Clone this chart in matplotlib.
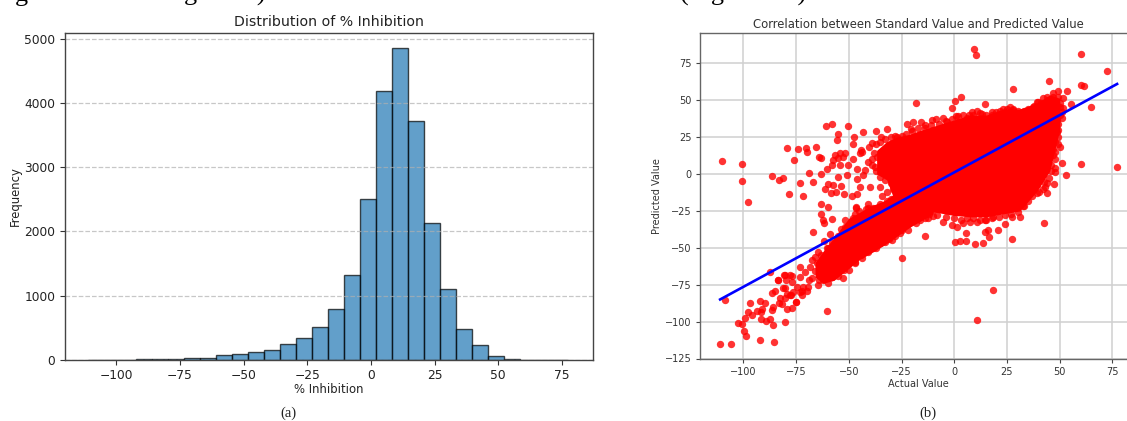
import matplotlib
matplotlib.use("Agg")
import matplotlib.pyplot as plt

W, H = 1127, 421

# ---------- panel (a): histogram ----------
hist_edges = [-111.0, -104.72, -98.43, -92.15, -85.87, -79.58, -73.3, -67.02, -60.73, -54.45,
              -48.17, -41.88, -35.6, -29.32, -23.03, -16.75, -10.47, -4.18, 2.1, 8.38,
              14.67, 20.95, 27.23, 33.52, 39.8, 46.08, 52.37, 58.65, 64.93, 71.22, 77.5]
hist_counts = [3, 5, 4, 12, 10, 22, 35, 28, 75, 90, 120, 160, 250, 345, 510, 790,
               1320, 2500, 4180, 4850, 3725, 2130, 1110, 480, 240, 70, 8, 5, 2, 2]
hist_xticks = [-100, -75, -50, -25, 0, 25, 50, 75]
hist_yticks = [0, 1000, 2000, 3000, 4000, 5000]

# ---------- panel (b): scatter ----------
out_x = [9.5, 10.4, 60.2, 72.4, 44.7, 60.2, 61.5, 27.8, 53.4, 65, 55.4, -18.3, 0.3, 3.2, -1.1, 0.8, 77.1, 60, 51, 53,
         -110, -100.8, -100.6, -97.8, -86.4, -83.2, -81, -78.2, -79.3, -74.2, -70.4, -70, -76, -69, -73, -71.9, -67,
         -65.4, -64.3, -63.3, -60.5, -63, -60.8, -58, -50.2, -55.1, -55.8, -47.6, -48.2, -43.3, -37, -31.9, -34.8,
         -24.8, 18.3, 10.9, -60.2, -13.7, 42.5, 27.6, -67, -61.6, -59, -58.1, -63.2, -60, -63.2, -62, -61.6, -53.7,
         -51.8, -46.4]
out_y = [85, 80.5, 81, 70, 63, 60.5, 59.4, 57.6, 56.3, 45.6, 47.5, 48, 49.3, 52.2, 44.5, 39.5, 4.5, 6.8, 7.5, -0.5,
         8.6, 7, -4.5, -19.2, -1.4, -3.8, -3, -13.3, 17.6, 17, 17.6, 14.7, 9.3, 0.9, -5.9, -15, -5.6,
         18.5, 11.5, 10.8, 3.4, 0, 32.8, 33.9, 32.3, 27.3, 23.3, 25.3, 20.6, 28.2, 29, 30.7, 25,
         -56.7, -78.9, -99, -93.1, -42, -33, -44.3, -39.5, -45.4, -40.4, -30.3, -20.3, -22.4, -27.3, -31.2, -33, -37,
         -31.2, -22.6]

low_x = [-110.9, -105.7, -91.9, -85.6, -98.6, -99.8, -102.7, -100.5, -99.2, -97.9, -96, -96.7, -92.1, -89.7, -93.4,
         -91.1, -91.6, -86.5, -86.1, -91.6, -89.4, -87.3, -85.9, -80.2, -86.5, -84.8, -83.1, -81.7, -82.6, -79.1,
         -76.8, -75, -80.1, -79.1, -77.5, -72.3, -69.7, -83.7, -80.2, -77.1, -79.8, -87.3, -108.8,
         -52.6, -56.6, -59.7, -64.5, -69.2, -72.4, -75.2, -52.3, -43.9, -47, -38.4, -32.9, -29.7, -22.6, -66, -67.6,
         -64.5, -60.5, -59, -73.1, -77.9, -80.7, -77, -81, -83.4, -73, -70.8, -68.4, -65.2, -74.7, -71.6, -77.9,
         -80.2, -76.4, -73.1, -67.6, -63.7, -61.3]
low_y = [-115.5, -115, -112.8, -113.7, -109.8, -106.4, -100.8, -101.5, -97.4, -93.6, -95.2, -87.3, -85.9, -87.7, -92.9,
         -91.3, -93.8, -92.2, -90.4, -98.5, -99.7, -98.1, -102.6, -100.1, -80.9, -79.5, -87.7, -88.4, -84.3, -91.7,
         -90.6, -86.6, -77.5, -81.4, -82, -79.3, -79.1, -72, -68.5, -68.9, -71.9, -66.2, -85.2,
         -70.7, -66.2, -74, -75, -76.4, -82, -86.6, -65, -57, -59.4, -50.4, -45.9, -44.7, -31.2, -56, -58.3,
         -52.7, -50.4, -60.6, -62.8, -68.5, -68.5, -73, -77.5, -71.9, -69.6, -66.2, -62.8, -60.6, -76.4, -76.4, -82,
         -84.3, -79.8, -79.8, -70.7, -67.3, -62.8]

mid_x = [-27, -39.1, -40.2, -44.2, -44.7, -56.5, -54.1, -51.8, -57.3, -54.9, -52.6, -47.8, -43.9, -58.1, -54.1, -50.2,
         -46.2, -40.7, -42.3, -36.7, -37.5, -54.9, -51, -46.2, -43.1, -33.6, -59.7, -57.3, -53.8, -44.7, -39.9, -35.2,
         -61.2, -58.4, -56, -52.1, -48.3, -45.9, -34.4, -40.7, -46.6, -38.3, -40.7]
mid_y = [25.3, 20.7, 18.5, 16.2, 14, 12.8, 14, 14.4, 9.4, 10.6, 11.7, 9.9, 15.1, 6, 6, 6,
         3.3, 8.3, 2.7, 11.7, 4.9, -1.9, -0.7, -3.7, -0.7, 2.7, -7, -7.5, -8, -8.9, -8.6, -8.6,
         -10.4, -13.2, -12, -13.8, -14.7, -13.8, -15, -20, -22.9, -23.3, -23.3]

edge_x = [-22.5, -19.4, -15.8, -20.6, -13.8, -10.7, -8.6, -5.2, -3.6, -9.9, 5.9, 8.3, 10.6, 13, 14.6, 21.7, 26.4, 17.8,
          28, 32, 35.9, 39.4, 39.4, 42, 44.6, 46.9, 49, 51.7, 39.8, 37.4, 50, 51.7, 48.5, 50.9, 48.8, 49.3, 46.9, 50,
          46.9, 44.6, 47.7, 47.7, 47.4, 42.5, 39.3, 43.8, 43, 39, 33.6, 32.4, 32.7, 31.1, 27.2, 23.9, 20.9, 16.1, 14.5,
          16.4, 13.7, 9.6, 5.8, 2.7, 0.3, 5.8, 1.1, 4.3, -1.3, -5.5, 7.4, 10.6, 14.5, 18.5, -12.3, -16.3, -10.3, -21.8,
          -25.8]
edge_y = [33.6, 35.4, 35.4, 30.2, 30.9, 36.6, 37, 37.7, 35, 29.8, 37.7, 42.2, 42.9, 40.6, 47.4, 42.9, 45.6, 40,
          43.3, 42.2, 42.9, 43.3, 49, 51.7, 50, 54.7, 56.5, 51.3, 49, 45.6, 45.6, 44.5, 36.6, 37.7, 28.7, 25.3, 23, 18.5,
          12.9, 8.4, 3.8, 1.6, -7, -5.2, -7.5, -13, -8.6, -12.7, -14.2, -18.8, -21.7, -29, -29, -33.9, -38, -38, -39,
          -42.5, -47, -47.2, -45.4, -45.7, -45.9, -40.2, -35.7, -33.4, -34.6, -32.8, -32.3, -32.3, -31, -29, -30, -31,
          -28.5, -38, -40.2]

rim_x = [-37, -35, -33, -30, -28, -25, -23, -38, -39, -39, -37, -35, -33, -30, -32, -29, -30, -28, -32, -26, -30, -34, -37,
         -47, -48, -45, -42, -38, -35, -32, -52, -55, -58, -60, -63,
         -58, -55, -50, -47, -44, -41, -37, -35, -31, -28, -25, -22, -18, -14, -66, -69, -64, -62,
         -12, -8, -4, 0, 3, 6, 9, 12, 15, 18, 21, 24, 27, 30, 33, 35, 37, 40, 42, 44, 45, 46, 46, 48, 48, 49,
         -20, -17, -14, -11, -7, -4, -1, 2, 4, 7, 9, 12, 15, 18, 20, 23, 25, 28, 30, 33, 35, 38, 41, 44, 47, 49, 50, 51,
         50, 49, 49, 47, 48, 47]
rim_y = [20, 22, 24, 25, 26, 26, 27, 14, 10, 6, 2, -2, -4, -6, -12, -10, -17, -20, -20, -23, -25, -24, -27,
         -27, -30, -25, -24, -24, -20, -18, -36, -42, -47, -50, -55,
         -70, -69, -65, -60, -55, -53, -50, -47, -44, -42, -38, -34, -33, -30, -66, -72, -72, -72,
         -27, -28, -29, -30, -31, -30, -30, -31, -31, -30, -29, -28, -27, -26, -22, -18, -15, -12, -10, -6, -3, 2, 6, 10, 15, 20,
         29, 31, 33, 33, 34, 36, 37, 39, 40, 40, 40, 41, 40, 42, 42, 44, 44, 44, 43, 43, 44, 46, 48, 52, 52, 52, 48, 42,
         40, 34, 30, 28, 22, 17]

# saturated red mass: upper and lower limit per x
upper_band_x = [-36.8, -32, -27.3, -21, -16.3, -8.4, -0.5, 7.4, 15.3, 23.2, 31.1, 39, 45.3, 50]
upper_band_hi = [16, 22, 25, 27, 29.5, 33, 36.5, 40, 40, 44, 44, 48, 53.6, 51.3]
upper_band_lo = [0, -4, -22, -27, -26, -26, -28, -29, -29, -27, -25, -12, 2, 30]
lower_band_x = [-66, -62, -57, -50, -45, -40, -33, -27, -21, -10]
lower_band_hi = [-60, -52, -43, -30, -26, -22, -18, -12, -10, -10]
lower_band_lo = [-70, -74, -72, -64, -58, -54, -48, -42, -36, -27]

fit_x = [-111, 77.2]
fit_y = [-85, 61]
scat_xticks = [-100, -75, -50, -25, 0, 25, 50, 75]
scat_yticks = [-125, -100, -75, -50, -25, 0, 25, 50, 75]


def box(left, top, right, bottom):
    return [left / W, 1 - bottom / H, (right - left) / W, (bottom - top) / H]


fig = plt.figure(figsize=(W / 100, H / 100), dpi=100, facecolor="white")

# panel (a)
ax1 = fig.add_axes(box(64.5, 32.7, 592.5, 360))
ax1.bar(hist_edges[:-1], hist_counts,
        width=[b - a for a, b in zip(hist_edges[:-1], hist_edges[1:])],
        align="edge", color="#1f77b4", alpha=0.7, edgecolor="black", linewidth=1.0, zorder=1)
ax1.grid(axis="y", linestyle="--", color="#b0b0b0", alpha=0.7, linewidth=0.9, zorder=1.5)
ax1.set_xlim(-120.4, 87)
ax1.set_ylim(0, 5092)
ax1.set_xticks(hist_xticks)
ax1.set_yticks(hist_yticks)
ax1.tick_params(labelsize=8.8, color="#333333", labelcolor="#222222", width=0.8, length=3.5, pad=3)
ax1.set_xlabel("% Inhibition", fontsize=8.4, color="#222222", labelpad=1)
ax1.set_ylabel("Frequency", fontsize=8.4, color="#222222", labelpad=1.5)
ax1.set_title("Distribution of % Inhibition", fontsize=10.2, color="#222222", pad=4.5)
for s in ax1.spines.values():
    s.set_color("#444444")
    s.set_linewidth(1.0)

# panel (b)
ax2 = fig.add_axes(box(700.3, 33.5, 1127, 358.5))
ax2.set_axisbelow(True)
ax2.grid(True, color="#d0d0d0", linewidth=1.1)
ax2.fill_between(upper_band_x, upper_band_lo, upper_band_hi, color="red", linewidth=0, zorder=2)
ax2.fill_between(lower_band_x, lower_band_lo, lower_band_hi, color="red", linewidth=0, zorder=2)
for xs, ys in ((out_x, out_y), (low_x, low_y), (mid_x, mid_y), (edge_x, edge_y), (rim_x, rim_y)):
    ax2.scatter(xs, ys, s=28, color="red", alpha=0.8, linewidths=0, zorder=3)
ax2.plot(fit_x, fit_y, color="blue", linewidth=1.9, zorder=4)
ax2.set_xlim(-120.4, 81.9)
ax2.set_ylim(-125, 95.2)
ax2.set_xticks(scat_xticks)
ax2.set_yticks(scat_yticks)
ax2.tick_params(labelsize=7, color="#444444", labelcolor="#333333", width=0.8, length=3, pad=3)
ax2.set_xlabel("Actual Value", fontsize=7, color="#333333", labelpad=1.5, x=0.512)
ax2.set_ylabel("Predicted Value", fontsize=7, color="#333333", labelpad=2)
ax2.set_title("Correlation between Standard Value and Predicted Value", fontsize=8.4, color="#333333", pad=4, x=0.512)
ax2.spines["right"].set_visible(False)
for s in ("left", "top", "bottom"):
    ax2.spines[s].set_color("#666666")
    ax2.spines[s].set_linewidth(1.0)

# caption text
serif = "Liberation Serif"
fig.text(288 / W, 1 - 413 / H, "(a)", family=serif, fontsize=10.5, ha="center", va="center", color="#222222")
fig.text(928 / W, 1 - 413 / H, "(b)", family=serif, fontsize=10.5, ha="center", va="center", color="#222222")
# body text cut by the top edge of the crop
fig.text(15 / W, 1 - 1 / H, "g", family=serif, fontsize=19, ha="left", va="baseline", color="black")
fig.text(266 / W, 1 - 1 / H, "average loss)", family=serif, fontsize=19, ha="right", va="baseline", color="black")
fig.text(680 / W, 1 - 1 / H, "(Figure    7)", family=serif, fontsize=19, ha="left", va="baseline", color="black")

fig.savefig("out.png", dpi=100)
